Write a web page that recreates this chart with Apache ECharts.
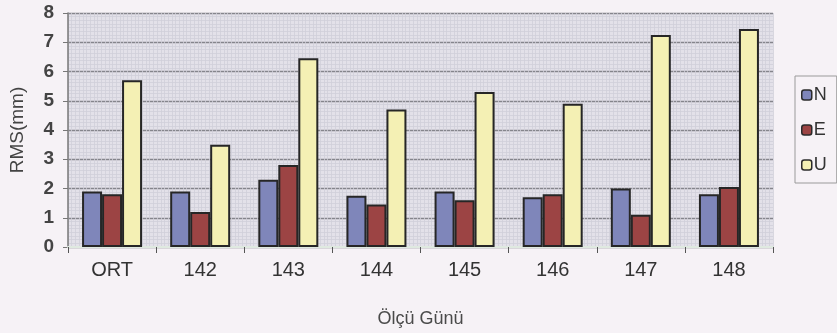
<!DOCTYPE html>
<html>
<head>
<meta charset="utf-8">
<script src="https://cdn.jsdelivr.net/npm/echarts@6/dist/echarts.min.js"></script>
<style>
  html, body { margin: 0; padding: 0; background: #f6f2f6; }
  #chart { width: 837px; height: 333px; }
</style>
</head>
<body>
<div id="chart"></div>
<script>
// Measurement days and RMS values (mm) per component
const days = ['ORT', '142', '143', '144', '145', '146', '147', '148'];
const rmsN = [1.9, 1.9, 2.3, 1.75, 1.9, 1.7, 2.0, 1.8];
const rmsE = [1.8, 1.2, 2.8, 1.45, 1.6, 1.8, 1.1, 2.05];
const rmsU = [5.7, 3.5, 6.45, 4.7, 5.3, 4.9, 7.25, 7.45];
const seriesNames = ['N', 'E', 'U'];
const yTicks = [0, 1, 2, 3, 4, 5, 6, 7, 8];

const colors = ['#7f86ba', '#9c4444', '#f4f0b4'];
const chart = echarts.init(document.getElementById('chart'));

const barStyle = (c) => ({ color: c, borderColor: '#262626', borderWidth: 2 });
const fontBase = { fontFamily: 'Liberation Sans, Arial, sans-serif', color: '#3a3a3a' };

chart.setOption({
  backgroundColor: '#f6f2f6',
  animation: false,
  textStyle: fontBase,
  grid: { left: 66, right: 64, top: 13, bottom: 84, backgroundColor: '#e3e1e9', show: true, borderWidth: 0 },
  legend: {
    orient: 'vertical',
    left: 795,
    top: 76,
    itemWidth: 10,
    itemHeight: 10,
    itemGap: 17,
    padding: [10, 10, 9, 6],
    borderColor: '#9a9a9a',
    borderWidth: 1,
    backgroundColor: '#f6f2f6',
    textStyle: { ...fontBase, fontSize: 18, color: '#333', padding: [0, 0, 0, -3] },
    data: seriesNames.map((n, i) => ({ name: n, itemStyle: { color: colors[i], borderColor: '#2b2b2b', borderWidth: 1.5 } }))
  },
  xAxis: [
    {
      type: 'category',
      data: days,
      name: 'Ölçü Günü',
      nameLocation: 'middle',
      nameGap: 63,
      nameTextStyle: { ...fontBase, fontSize: 18, color: '#4a4a4a' },
      axisLine: { lineStyle: { color: '#dfe9e0', width: 2 } },
      axisTick: { show: true, length: 6, lineStyle: { color: '#555' } },
      axisLabel: { fontSize: 20, color: '#333', margin: 13 },
      z: 3
    },
    {
      // fine texture lines of the plot area
      type: 'value',
      position: 'top',
      min: 0, max: 190, interval: 1,
      show: true,
      axisLine: { show: false }, axisTick: { show: false }, axisLabel: { show: false },
      splitLine: { show: true, lineStyle: { color: '#d1cfd9', width: 0.8 } }
    }
  ],
  yAxis: {
    type: 'value',
    min: yTicks[0],
    max: yTicks[yTicks.length - 1],
    interval: 1,
    name: 'RMS(mm)',
    nameLocation: 'middle',
    nameRotate: 90,
    nameGap: 41,
    nameTextStyle: { ...fontBase, fontSize: 19, color: '#444' },
    axisLine: { show: true, lineStyle: { color: '#777', width: 1.5 } },
    axisTick: { show: true, length: 5, lineStyle: { color: '#777' } },
    axisLabel: { fontSize: 19, fontWeight: 'bold', color: '#444', margin: 14 },
    splitLine: { show: true, lineStyle: { color: '#85858c', width: 1.4 } },
    minorTick: { show: false, splitNumber: 8 },
    minorSplitLine: { show: true, lineStyle: { color: '#d1cfd9', width: 0.8 } }
  },
  series: [rmsN, rmsE, rmsU].map((d, i) => ({
    name: seriesNames[i],
    type: 'bar',
    data: d,
    barWidth: 20,
    barGap: '0%',
    itemStyle: barStyle(colors[i]),
    z: 4
  }))
});
</script>
</body>
</html>
